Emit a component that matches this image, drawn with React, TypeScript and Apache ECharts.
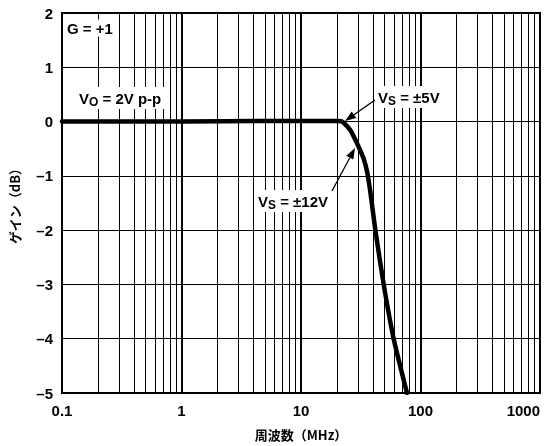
import React, { useEffect, useRef } from "react";
import * as echarts from "echarts";

// Frequency (MHz) and gain (dB)
const freqMHz = [0.1, 1, 5, 10, 20, 22.1, 25.9, 30, 33.4, 35.7, 38, 41.9, 49.2, 59.6, 77.1];
const gainDb = [0, 0, 0.01, 0.01, 0.01, 0, -0.16, -0.44, -0.68, -0.92, -1.29, -2.0, -3.0, -4.0, -5];

const yTicks = [-5, -4, -3, -2, -1, 0, 1, 2];
const xTickLabels = ["0.1", "1", "10", "100", "1000"];
const decades = [0.1, 1, 10, 100];
const minorSteps = [2, 3, 4, 5, 6, 7, 8, 9];

const FONT = "'Liberation Sans', Arial, Helvetica, sans-serif";
const CJK = "'Noto Sans CJK JP', 'Noto Sans', sans-serif";

function arrow(x1: number, y1: number, x2: number, y2: number) {
  const dx = x2 - x1;
  const dy = y2 - y1;
  const len = Math.sqrt(dx * dx + dy * dy);
  const ux = dx / len;
  const uy = dy / len;
  const hl = 11;
  const hw = 4;
  const bx = x2 - ux * hl;
  const by = y2 - uy * hl;
  return [
    {
      type: "line",
      z: 100,
      shape: { x1, y1, x2: bx, y2: by },
      style: { stroke: "#000", lineWidth: 1.3 },
    },
    {
      type: "polygon",
      z: 100,
      shape: {
        points: [
          [x2, y2],
          [bx - uy * hw, by + ux * hw],
          [bx + uy * hw, by - ux * hw],
        ],
      },
      style: { fill: "#000" },
    },
  ];
}

const richStyles = {
  n: { fontSize: 15, fontWeight: "bold", fontFamily: FONT, color: "#000" },
  s: { fontSize: 12, fontWeight: "bold", fontFamily: FONT, color: "#000", padding: [8, 0, 0, 0] },
};

function label(x: number, y: number, text: string) {
  return {
    type: "text",
    z: 100,
    x,
    y,
    style: {
      text,
      rich: richStyles,
      fontSize: 15,
      fontWeight: "bold",
      fontFamily: FONT,
      fill: "#000",
      backgroundColor: "#fff",
      padding: [1, 3, 1, 3],
      verticalAlign: "middle",
      align: "left",
    },
  };
}

export default function App() {
  const ref = useRef<HTMLDivElement>(null);
  useEffect(() => {
    if (!ref.current) return;
    const chart = echarts.init(ref.current, null, { renderer: "svg" });
    const minorGrid: number[] = [];
    decades.forEach((d) => minorSteps.forEach((k) => minorGrid.push(+(d * k).toPrecision(3))));
    const data = freqMHz.map((f, i) => [f, gainDb[i]]);

    chart.setOption({
      animation: false,
      grid: {
        left: 61,
        right: 4,
        top: 13,
        bottom: 49,
        show: true,
        borderColor: "#000",
        borderWidth: 2,
        backgroundColor: "transparent",
      },
      xAxis: {
        type: "log",
        logBase: 10,
        min: 0.1,
        max: 1000,
        axisLine: { show: false },
        axisTick: { show: false },
        splitLine: { show: true, lineStyle: { color: "#000", width: 2 } },
        axisLabel: {
          fontFamily: FONT,
          fontWeight: "bold",
          fontSize: 15,
          color: "#000",
          margin: 10,
          alignMaxLabel: "right",
          formatter: (v: number) => {
            const i = Math.round(Math.log10(v) + 1);
            return xTickLabels[i] ?? String(v);
          },
        },
        name: "周波数（MHz）",
        nameLocation: "middle",
        nameGap: 35,
        nameTextStyle: { fontFamily: CJK, fontWeight: "bold", fontSize: 13, color: "#000" },
      },
      yAxis: {
        type: "value",
        min: yTicks[0],
        max: yTicks[yTicks.length - 1],
        interval: 1,
        axisLine: { show: false },
        axisTick: { show: false },
        splitLine: { show: true, lineStyle: { color: "#000", width: 1 } },
        axisLabel: {
          fontFamily: FONT,
          fontWeight: "bold",
          fontSize: 15,
          color: "#000",
          margin: 9,
          formatter: (v: number) => (v < 0 ? "\u2013" + Math.abs(v) : String(v)),
        },
        name: "ゲイン（dB）",
        nameLocation: "middle",
        nameGap: 41,
        nameRotate: 90,
        nameTextStyle: { fontFamily: CJK, fontWeight: "bold", fontSize: 13, color: "#000" },
      },
      series: [
        {
          type: "line",
          data,
          symbol: "none",
          smooth: 0.2,
          z: 5,
          lineStyle: { color: "#000", width: 4.5, join: "round", cap: "round" },
          markLine: {
            silent: true,
            symbol: ["none", "none"],
            label: { show: false },
            lineStyle: { color: "#000", width: 1, type: "solid" },
            z: 1,
            data: minorGrid.map((v) => ({ xAxis: v })),
          },
        },
      ],
      graphic: [
        label(64, 28, "G = +1"),
        label(76, 98, "{n|V}{s|O}{n| = 2V p-p}"),
        label(375, 97, "{n|V}{s|S}{n| = ±5V}"),
        label(255, 201, "{n|V}{s|S}{n| = ±12V}"),
        ...arrow(375, 100, 345, 121),
        ...arrow(332, 191, 355, 148),
      ],
    });
    return () => chart.dispose();
  }, []);
  return (
    <div
      ref={ref}
      style={{ position: "fixed", left: 0, top: 0, width: 544, height: 446 }}
    />
  );
}
